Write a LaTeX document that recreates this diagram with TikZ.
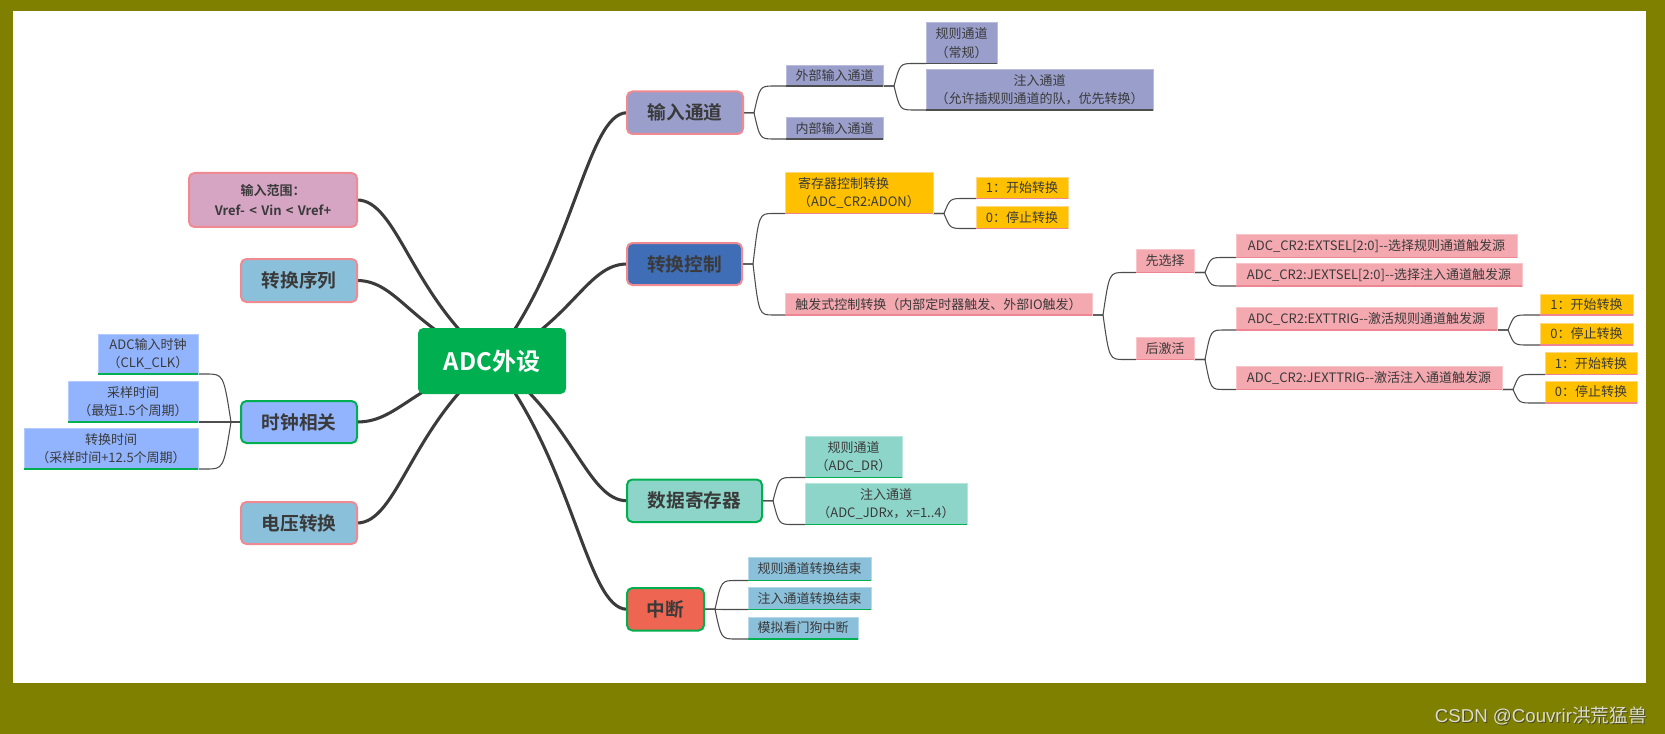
\documentclass[tikz,border=0pt]{standalone}
\usepackage{fontspec}
\setmainfont{Noto Sans CJK SC}[BoldFont={Noto Sans CJK SC Bold}]
\newfontfamily\latinwm{Liberation Sans}
\usetikzlibrary{calc}
\pgfdeclarelayer{bgzero}
\pgfdeclarelayer{conn}
\pgfsetlayers{bgzero,conn,main}
\definecolor{olivebg}{HTML}{808000}
\definecolor{rootg}{HTML}{00B050}
\definecolor{mainline}{HTML}{3B3B3B}
\definecolor{cline}{HTML}{4D4D4D}
\definecolor{pinkb}{HTML}{F08A92}
\definecolor{greenb}{HTML}{00B050}
\definecolor{lav}{HTML}{9A9ECB}
\definecolor{lavb}{HTML}{B9BCDD}
\definecolor{blueT}{HTML}{3F6EB7}
\definecolor{mauve}{HTML}{D6A5C4}
\definecolor{sky}{HTML}{8BC0DB}
\definecolor{skyb}{HTML}{B5D8EA}
\definecolor{peri}{HTML}{92B4FE}
\definecolor{perib}{HTML}{B5CBFF}
\definecolor{teal}{HTML}{8ED5C9}
\definecolor{tealb}{HTML}{B5E5DD}
\definecolor{tomato}{HTML}{EE6651}
\definecolor{amber}{HTML}{FFC000}
\definecolor{amberb}{HTML}{FFD780}
\definecolor{pinkf}{HTML}{F4A8AF}
\definecolor{pinkfb}{HTML}{F8C5CA}
\definecolor{pinkul}{HTML}{EF8592}
\definecolor{txt}{HTML}{3A3A3A}
\definecolor{wmtxt}{HTML}{DCDCCB}
\definecolor{wmshadow}{HTML}{4A4A20}
\tikzset{
  x=0.75pt, y=-0.75pt,
  base/.style={inner sep=0pt, outer sep=0pt, align=center, text=txt},
  rootbox/.style={base, fill=rootg, rounded corners=4pt, text=white,
    font=\fontsize{18}{21}\selectfont\bfseries},
  mt/.style={base, rounded corners=4pt, line width=1.5pt, fill=#1,
    font=\fontsize{14}{17}\selectfont\bfseries},
  mtp/.style={mt=#1, draw=pinkb},
  mtg/.style={mt=#1, draw=greenb},
  sub/.style={base, fill=#1, line width=0.6pt,
    font=\fontsize{9.75}{13.9}\selectfont},
  sublav/.style={sub=lav, draw=lavb},
  subamb/.style={sub=amber, draw=amberb},
  subpink/.style={sub=pinkf, draw=pinkfb},
  subperi/.style={sub=peri, draw=perib},
  subteal/.style={sub=teal, draw=tealb},
  subsky/.style={sub=sky, draw=skyb},
  mc/.style={line width=2.3pt, draw=mainline,
    to path={let \p1=(\tikztostart),\p2=(\tikztotarget) in
      .. controls ({\x1+0.6*(\x2-\x1)},{\y1+0.4*(\y2-\y1)})
         and ({\x1+0.7*(\x2-\x1)},\y2) .. (\p2)}},
  ccr/.style={line width=0.8pt, draw=cline,
    to path={let \p1=(\tikztostart),\p2=(\tikztotarget) in
      -- ({\x1+8.25pt},\y1)
      .. controls ({\x1+8.25pt+0.3*(\x2-\x1-17.25pt)},\y2) .. ({\x2-9pt},\y2)
      -- (\p2)}},
  ccl/.style={line width=0.8pt, draw=cline,
    to path={let \p1=(\tikztostart),\p2=(\tikztotarget) in
      -- ({\x1-7.5pt},\y1)
      .. controls ({\x1-7.5pt+0.3*(\x2-\x1+13.5pt)},\y2) .. ({\x2+6pt},\y2)
      -- (\p2)}},
  uldark/.style={line width=1pt, draw=cline},
  ulpink/.style={line width=1pt, draw=pinkul},
  ulgreen/.style={line width=1pt, draw=greenb},
}
\newcommand\bx[7]{\node[#6, minimum width={(#4-#2)*0.75pt}, minimum height={(#5-#3)*0.75pt}] (#1) at ({(#2+#4)/2},{(#3+#5)/2}) {#7};}
\begin{document}
\begin{tikzpicture}
\useasboundingbox (0,0) rectangle (1665,734);
\begin{pgfonlayer}{bgzero}
\fill[olivebg] (0,0) rectangle (1665,734);
\fill[white] (13,11) rectangle (1646,683);
\end{pgfonlayer}

% ---------- nodes ----------
\bx{R}{418}{328}{566}{394}{rootbox}{ADC外设}
% left
\bx{inr}{189}{173}{357}{227}{base, fill=mauve, draw=pinkb, line width=1.5pt, rounded corners=4pt, font=\fontsize{9.75}{14.5}\selectfont\bfseries}{输入范围：\\Vref-\,\,<\,\,Vin\,\,<\,\,Vref+}
\bx{seq}{241}{259}{357}{302}{mtp=sky}{转换序列}
\bx{clk}{241}{401}{357}{443}{mtg=peri}{时钟相关}
\bx{vol}{241}{502}{357}{544}{mtp=sky}{电压转换}
\bx{c1}{98}{334}{198}{374}{subperi}{ADC输入时钟\\（CLK\_CLK）}
\bx{c2}{68}{381}{198}{422}{subperi}{采样时间\\（最短1.5个周期）}
\bx{c3}{24}{428}{198}{469}{subperi}{转换时间\\（采样时间+12.5个周期）}
% right: input channels
\bx{inp}{627}{91.5}{743}{134}{mtp=lav}{输入通道}
\bx{ext}{786}{65}{883}{86}{sublav}{外部输入通道}
\bx{int}{786}{117.5}{883}{139}{sublav}{内部输入通道}
\bx{reg1}{926}{22.5}{997}{63.5}{sublav}{规则通道\\（常规）}
\bx{inj1}{926}{69.5}{1153}{110}{sublav}{注入通道\\（允许插规则通道的队，优先转换）}
% conversion control
\bx{ctl}{627}{243}{742}{285}{mtp=blueT}{转换控制}
\bx{regc}{785}{172.5}{933}{213.5}{subamb, align=left}{寄存器控制转换\\（ADC\_CR2:ADON）}
\bx{s1}{976}{177}{1068}{198.5}{subamb}{1：开始转换}
\bx{s0}{976}{206}{1068}{228.5}{subamb}{0：停止转换}
\bx{trg}{785}{293.5}{1092}{315}{subpink}{触发式控制转换（内部定时器触发、外部IO触发）}
\bx{pre}{1136}{249.5}{1194}{272.5}{subpink}{先选择}
\bx{post}{1136}{337}{1194}{359.5}{subpink}{后激活}
\bx{ex1}{1236}{234.5}{1517}{257.5}{subpink}{ADC\_CR2:EXTSEL[2:0]-{}-选择规则通道触发源}
\bx{ex2}{1236}{263.5}{1522}{286}{subpink}{ADC\_CR2:JEXTSEL[2:0]-{}-选择注入通道触发源}
\bx{ex3}{1236}{307.5}{1497}{330}{subpink}{ADC\_CR2:EXTTRIG-{}-激活规则通道触发源}
\bx{ex4}{1236}{366.5}{1502}{389.5}{subpink}{ADC\_CR2:JEXTTRIG-{}-激活注入通道触发源}
\bx{t1}{1540}{294}{1633}{315}{subamb}{1：开始转换}
\bx{t0}{1540}{323}{1633}{345}{subamb}{0：停止转换}
\bx{u1}{1545}{352}{1637}{374.5}{subamb}{1：开始转换}
\bx{u0}{1545}{381}{1637}{403}{subamb}{0：停止转换}
% data registers
\bx{dat}{627}{479.5}{762}{522}{mtg=teal}{数据寄存器}
\bx{dr}{805}{436}{902}{477.5}{subteal}{规则通道\\（ADC\_DR）}
\bx{jdr}{805}{483.5}{967}{524.5}{subteal}{注入通道\\（ADC\_JDRx，x=1..4）}
% interrupts
\bx{irq}{627}{588}{704}{630.5}{mtg=tomato}{中断}
\bx{i1}{748}{557.5}{871}{580.5}{subsky}{规则通道转换结束}
\bx{i2}{748}{587}{871}{609.5}{subsky}{注入通道转换结束}
\bx{i3}{748}{617}{858}{639}{subsky}{模拟看门狗中断}

% watermark
\node[anchor=east, inner sep=0pt, text=wmshadow, font=\fontsize{14}{16}\selectfont] (wms) at (1648,717) {{\latinwm CSDN @Couvrir}洪荒猛兽};
\node[anchor=east, inner sep=0pt, text=wmtxt, font=\fontsize{14}{16}\selectfont] (wm) at (1647,716) {{\latinwm CSDN @Couvrir}洪荒猛兽};

% ---------- underlines ----------
\foreach \n in {ext,int,reg1,inj1}
  \draw[uldark] (\n.south west) -- (\n.south east);
\foreach \n in {regc,s1,s0,trg,pre,post,ex1,ex2,ex3,ex4,t1,t0,u1,u0}
  \draw[ulpink] (\n.south west) -- (\n.south east);
\foreach \n in {c1,c2,c3,dr,jdr,i1,i2,i3}
  \draw[ulgreen] (\n.south west) -- (\n.south east);

% ---------- connectors (behind nodes) ----------
\begin{pgfonlayer}{conn}
\foreach \t in {inp,ctl,dat,irq}
  \draw[mc] (R.center) to (\t.west);
\foreach \t in {inr,seq,clk,vol}
  \draw[mc] (R.center) to (\t.east);
% input channels
\draw[ccr] (inp.east) to (ext.south west);
\draw[ccr] (inp.east) to (int.south west);
\draw[ccr] (ext.south east) to (reg1.south west);
\draw[ccr] (ext.south east) to (inj1.south west);
% conversion control
\draw[ccr] (ctl.east) to (regc.south west);
\draw[ccr] (ctl.east) to (trg.south west);
\draw[ccr] (regc.south east) to (s1.south west);
\draw[ccr] (regc.south east) to (s0.south west);
\draw[ccr] (trg.south east) to (pre.south west);
\draw[ccr] (trg.south east) to (post.south west);
\draw[ccr] (pre.south east) to (ex1.south west);
\draw[ccr] (pre.south east) to (ex2.south west);
\draw[ccr] (post.south east) to (ex3.south west);
\draw[ccr] (post.south east) to (ex4.south west);
\draw[ccr] (ex3.south east) to (t1.south west);
\draw[ccr] (ex3.south east) to (t0.south west);
\draw[ccr] (ex4.south east) to (u1.south west);
\draw[ccr] (ex4.south east) to (u0.south west);
% data registers
\draw[ccr] (dat.east) to (dr.south west);
\draw[ccr] (dat.east) to (jdr.south west);
% interrupts
\draw[ccr] (irq.east) to (i1.south west);
\draw[ccr] (irq.east) to (i2.south west);
\draw[ccr] (irq.east) to (i3.south west);
% clock
\draw[ccl] (clk.west) to (c1.south east);
\draw[ccl] (clk.west) to (c2.south east);
\draw[ccl] (clk.west) to (c3.south east);
\end{pgfonlayer}
\end{tikzpicture}
\end{document}
